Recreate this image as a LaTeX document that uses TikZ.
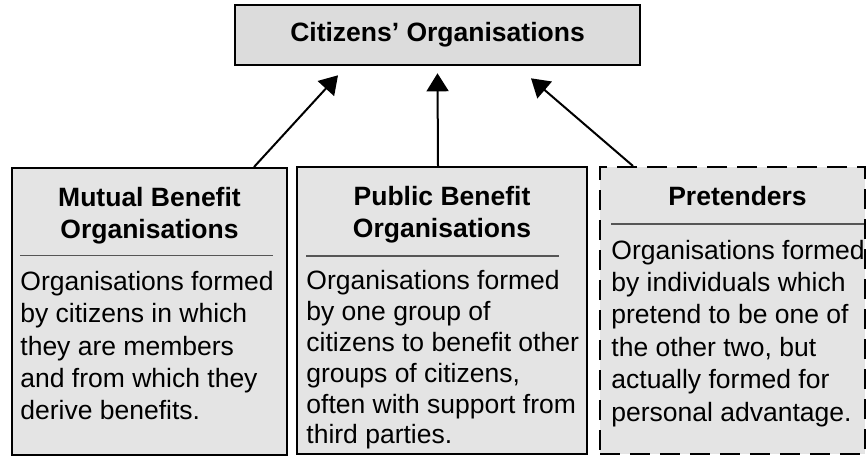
\documentclass[tikz,border=0pt]{standalone}
\usepackage{fontspec}
\setmainfont{Liberation Sans}
\usetikzlibrary{calc,positioning,arrows.meta}
\definecolor{TopGray}{HTML}{DCDCDC}
\definecolor{BoxGray}{HTML}{E4E4E4}
\definecolor{RuleGray}{HTML}{555555}

\begin{document}
\begin{tikzpicture}[
      x=1pt, y=1pt,
      title/.style={
        draw, line width=1.3pt, fill=TopGray,
        minimum width=202.5pt, minimum height=30pt, inner sep=0pt,
        font=\fontsize{13.25}{16}\selectfont\bfseries
      },
      kind/.style={
        draw, line width=1pt, fill=BoxGray,
        minimum height=143.5pt, inner sep=0pt
      },
      pretend/.style={kind, dash pattern=on 10pt off 5pt},
      head/.style={
        align=center, inner sep=0pt,
        font=\fontsize{13.25}{16}\selectfont\bfseries
      },
      body/.style={
        align=left, inner sep=0pt,
        font=\fontsize{13.25}{16.2}\selectfont
      },
      tight/.style={font=\fontsize{13.25}{15.45}\selectfont},
      rule/.style={RuleGray, line width=0.6pt},
      link/.style={-{Triangle[length=9pt,width=11pt]}, line width=1pt}
    ]
      \useasboundingbox (0,0) rectangle (433.5,228);
      \node[title] (co) at (218.75,210.5) {Citizens' Organisations};
      \node[kind, minimum width=137.5pt] (mb) at (74.75,72.25) {};
      \node[kind, minimum width=145pt]   (pb) at (221,72.75) {};
      \node[pretend, minimum width=132.5pt] (pr) at (366.25,72.75) {};
      \node[head, below=9.8pt of mb.north] (mbh) {Mutual Benefit\\Organisations};
      \node[head, below=9.8pt of pb.north] (pbh) {Public Benefit\\Organisations};
      \node[head, below=9.8pt of pr.north, xshift=2.5pt] (prh) {Pretenders};
      \coordinate (mbs) at (10,100.35);
      \coordinate (pbs) at (153,100);
      \coordinate (prs) at (305.5,116);
      \draw[rule] (mbs) -- ++(126.5,0);
      \draw[rule] (pbs) -- ++(126.5,0);
      \draw[rule] (prs) -- ++(126.5,0);
      \node[body, below right=7.7pt and 0pt of mbs] (mbt)
        {Organisations formed\\by citizens in which\\they are members\\and from which they\\derive benefits.};
      \node[body, tight, below right=6.9pt and 0pt of pbs] (pbt)
        {Organisations formed\\by one group of\\citizens to benefit other\\groups of citizens,\\often with support from\\third parties.};
      \node[body, below right=7.7pt and 0pt of prs] (prt)
        {Organisations formed\\by individuals which\\pretend to be one of\\the other two, but\\actually formed for\\personal advantage.};
      \coordinate (col) at ([xshift=-49.75pt, yshift=-4.5pt]co.south);
      \coordinate (com) at ([yshift=-3.5pt]co.south);
      \coordinate (cor) at ([xshift=46.75pt, yshift=-6pt]co.south);
      \draw[link] ([xshift=-17pt]mb.north east) -- (col);
      \draw[link] ([xshift=-2pt]pb.north) -- (com);
      \draw[link] ([xshift=-49.75pt]pr.north) -- (cor);
    \end{tikzpicture}
\end{document}
